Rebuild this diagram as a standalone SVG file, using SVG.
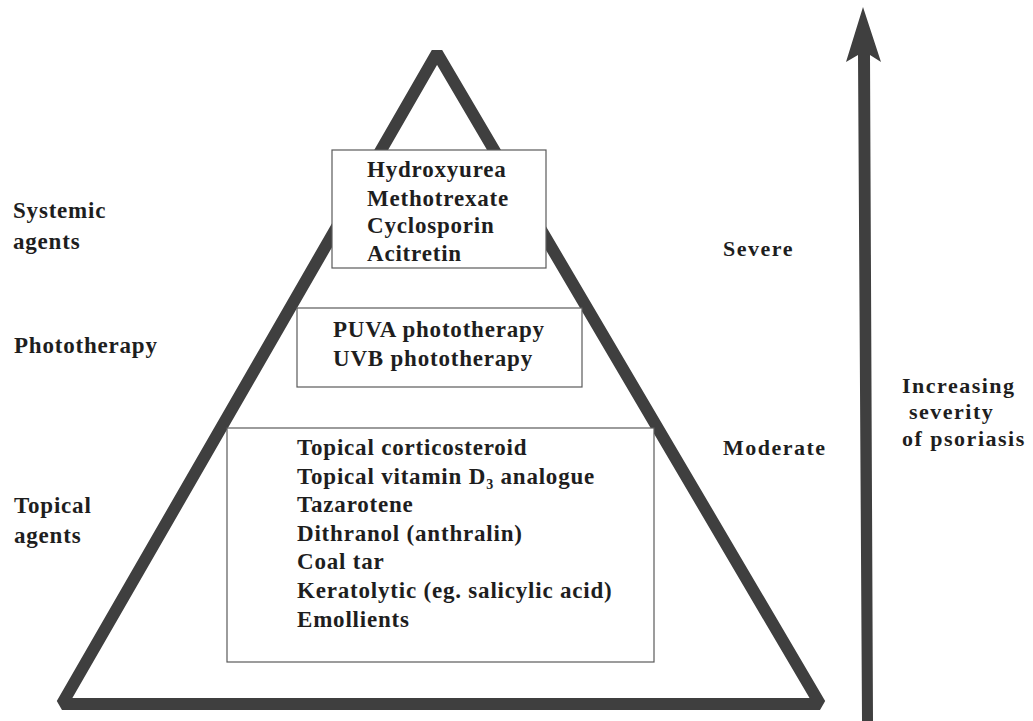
<svg xmlns="http://www.w3.org/2000/svg" width="1033" height="721" viewBox="0 0 1033 721">
  <style>
    .t { font-family: "Liberation Serif", "Times New Roman", serif; font-weight: bold; fill: #1e1e1e; }
    .box-t { font-size: 23px; letter-spacing: 0.8px; }
    .lbl { font-size: 23px; letter-spacing: 0.8px; }
    .rl { font-size: 22px; letter-spacing: 1.5px; }
    .box { fill: #ffffff; stroke: #5a5a5a; stroke-width: 1.2; }
    .heavy { fill: none; stroke: #3f3f3f; stroke-width: 12; stroke-linejoin: miter; stroke-miterlimit: 1.8; }
  </style>
  <rect width="1033" height="721" fill="#ffffff"/>

  <g id="pyramid">
    <polygon class="heavy" points="437,53 820,704 62,704"/>
  </g>

  <g id="connectors">
    <polygon id="severity-arrow" fill="#3f3f3f" points="863,7 881,62 870,55 873,721 862,721 858,55 846,62"/>
  </g>

  <g id="node-systemic">
    <rect class="box" x="332" y="150" width="214" height="118"/>
    <text class="t box-t" x="367" y="177">Hydroxyurea</text>
    <text class="t box-t" x="367" y="206">Methotrexate</text>
    <text class="t box-t" x="367" y="233">Cyclosporin</text>
    <text class="t box-t" x="367" y="261">Acitretin</text>
  </g>

  <g id="node-phototherapy">
    <rect class="box" x="297" y="308" width="285" height="79"/>
    <text class="t box-t" x="333" y="337">PUVA phototherapy</text>
    <text class="t box-t" x="333" y="366">UVB phototherapy</text>
  </g>

  <g id="node-topical">
    <rect class="box" x="227" y="428" width="427" height="234"/>
    <text class="t box-t" x="297" y="455">Topical corticosteroid</text>
    <text class="t box-t" x="297" y="484">Topical vitamin D<tspan font-size="14" dy="5">3</tspan><tspan dy="-5"> analogue</tspan></text>
    <text class="t box-t" x="297" y="512">Tazarotene</text>
    <text class="t box-t" x="297" y="541">Dithranol (anthralin)</text>
    <text class="t box-t" x="297" y="569">Coal tar</text>
    <text class="t box-t" x="297" y="598">Keratolytic (eg. salicylic acid)</text>
    <text class="t box-t" x="297" y="627">Emollients</text>
  </g>

  <g id="label-systemic">
    <text class="t lbl" x="13" y="218">Systemic</text>
    <text class="t lbl" x="13" y="249">agents</text>
  </g>
  <g id="label-phototherapy">
    <text class="t lbl" x="14" y="353">Phototherapy</text>
  </g>
  <g id="label-topical">
    <text class="t lbl" x="14" y="513">Topical</text>
    <text class="t lbl" x="14" y="543">agents</text>
  </g>

  <g id="label-severe">
    <text class="t rl" x="723" y="256">Severe</text>
  </g>
  <g id="label-moderate">
    <text class="t rl" x="723" y="455">Moderate</text>
  </g>
  <g id="label-increasing">
    <text class="t rl" x="902" y="393">Increasing</text>
    <text class="t rl" x="909" y="419">severity</text>
    <text class="t rl" x="902" y="446">of psoriasis</text>
  </g>
</svg>
